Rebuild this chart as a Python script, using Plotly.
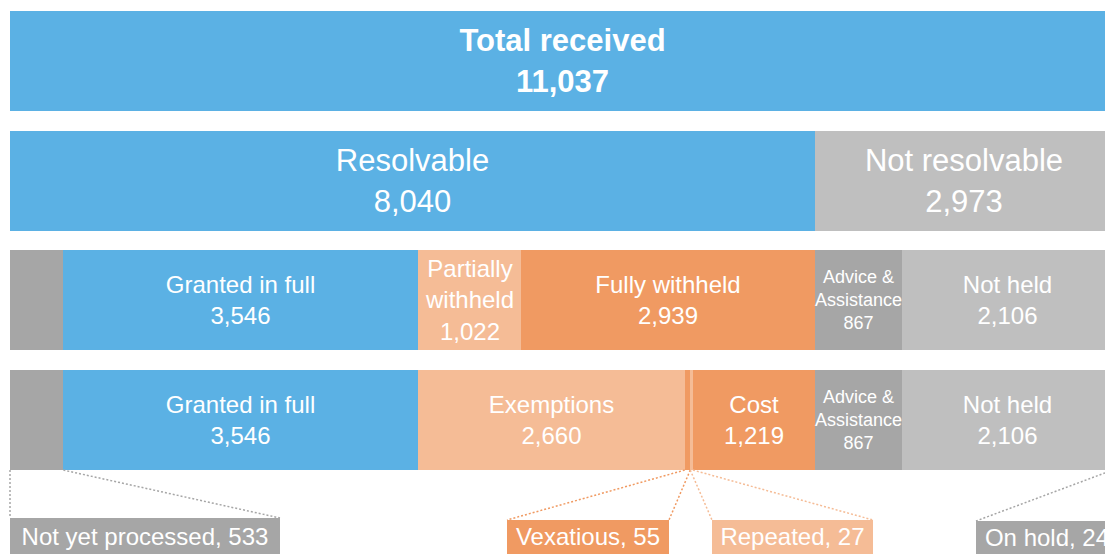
import numpy as np
import plotly.graph_objects as go

# ---------------- data ----------------
total_labels = ["Total received"]
total_values = [11037]

resolvable_labels = ["Resolvable", "Not resolvable", "On hold"]
resolvable_values = [8040, 2973, 24]

outcome_labels = ["Not yet processed", "Granted in full", "Partially withheld",
                  "Fully withheld", "Advice & Assistance", "Not held", "On hold"]
outcome_values = [533, 3546, 1022, 2939, 867, 2106, 24]

detail_labels = ["Not yet processed", "Granted in full", "Exemptions", "Vexatious",
                 "Repeated", "Cost", "Advice & Assistance", "Not held", "On hold"]
detail_values = [533, 3546, 2660, 55, 27, 1219, 867, 2106, 24]

# segments of the bottom row that are labelled by call-out boxes below the bars
callout_labels = ["Not yet processed", "Vexatious", "Repeated", "On hold"]

# ---------------- styles ----------------
BLUE = "#5BB1E4"
GRAY_LIGHT = "#BFBFBF"
GRAY_DARK = "#A6A6A6"
ORANGE = "#F09A62"
ORANGE_LIGHT = "#F5BC96"
FONT = "Arial, 'Liberation Sans', sans-serif"

COLORS = {
    "Total received": BLUE, "Resolvable": BLUE, "Not resolvable": GRAY_LIGHT,
    "On hold": GRAY_DARK, "Not yet processed": GRAY_DARK, "Granted in full": BLUE,
    "Partially withheld": ORANGE_LIGHT, "Fully withheld": ORANGE,
    "Exemptions": ORANGE_LIGHT, "Vexatious": ORANGE, "Repeated": ORANGE_LIGHT,
    "Cost": ORANGE, "Advice & Assistance": GRAY_DARK, "Not held": GRAY_LIGHT,
}
BREAKS = {"Partially withheld": "Partially<br>withheld",
          "Advice & Assistance": "Advice &<br>Assistance"}
SMALL_TEXT = {"Advice & Assistance": 18}

# call-out box placement (pixels): left, right, top
CALLOUT_BOX = {
    "Not yet processed": (10, 280, 518),
    "Vexatious": (507, 669, 520),
    "Repeated": (712, 873, 520),
    "On hold": (976, 1118, 521),
}
CALLOUT_TEXT_MID_PX = 536

W, H = 1105, 554
LEFT_PX = 10
UNITS_PER_PX = 8040 / 805.0
ROW0_PX = 61.0
ROW_PITCH = 119.7
BAR_W = 0.835


def px_to_x(p):
    return (p - LEFT_PX) * UNITS_PER_PX


def px_to_y(p):
    return (p - ROW0_PX) / ROW_PITCH


fig = go.Figure()


def add_row(row, labels, values, size, bold=False):
    starts = np.concatenate([[0], np.cumsum(values)[:-1]])
    texts, sizes = [], []
    for lab, v in zip(labels, values):
        if lab in callout_labels:
            texts.append("")
        else:
            t = f"{BREAKS.get(lab, lab)}<br>{v:,}"
            texts.append(f"<b>{t}</b>" if bold else t)
        sizes.append(SMALL_TEXT.get(lab, size))
    fig.add_trace(go.Bar(
        y=[row] * len(values), x=values, base=starts, orientation="h",
        width=BAR_W,
        marker=dict(color=[COLORS[l] for l in labels], line=dict(width=0)),
        text=texts, textposition="inside", insidetextanchor="middle",
        textangle=0, constraintext="none",
        textfont=dict(color="white", size=sizes, family=FONT),
        hoverinfo="skip", showlegend=False,
    ))
    return starts


add_row(0, total_labels, total_values, 31, bold=True)
add_row(1, resolvable_labels, resolvable_values, 31)
add_row(2, outcome_labels, outcome_values, 24)
detail_starts = add_row(3, detail_labels, detail_values, 24)

# ---------------- call-outs ----------------
bar_bottom = 3 + BAR_W / 2
for lab in callout_labels:
    i = detail_labels.index(lab)
    seg0 = detail_starts[i]
    seg1 = seg0 + detail_values[i]
    left, right, top = CALLOUT_BOX[lab]
    col = COLORS[lab]
    ytop = px_to_y(top)
    for xs, xe in ((seg0, px_to_x(left)), (seg1, px_to_x(right))):
        fig.add_shape(type="line", xref="x", yref="y",
                      x0=xs, y0=bar_bottom, x1=xe, y1=ytop,
                      line=dict(color=col, width=1.5, dash="2px,2px"))
    box_h = max(2 * (CALLOUT_TEXT_MID_PX - top), 32)
    # coloured box (extends below the visible area)
    fig.add_annotation(
        x=px_to_x(left), y=ytop, xref="x", yref="y",
        xanchor="left", yanchor="top", showarrow=False,
        width=right - left, height=60, borderpad=0, borderwidth=0,
        bgcolor=col, text="",
    )
    # label text
    fig.add_annotation(
        x=px_to_x(left), y=ytop, xref="x", yref="y",
        xanchor="left", yanchor="top", showarrow=False,
        width=right - left, height=box_h, borderpad=0, borderwidth=0,
        align="center", valign="middle",
        text=f"{lab}, {detail_values[i]:,}",
        font=dict(color="white", size=24, family=FONT),
    )

fig.update_layout(
    width=W, height=H, autosize=False,
    margin=dict(l=0, r=0, t=0, b=0, pad=0),
    barmode="overlay", bargap=0,
    plot_bgcolor="white", paper_bgcolor="white",
    xaxis=dict(visible=False, range=[px_to_x(0), px_to_x(W)], fixedrange=True),
    yaxis=dict(visible=False, range=[px_to_y(H), px_to_y(0)], fixedrange=True),
    font=dict(family=FONT),
)

fig.write_html("out.html", config={"displayModeBar": False},
               post_script="document.body.style.margin='0';document.body.style.overflow='hidden';")
